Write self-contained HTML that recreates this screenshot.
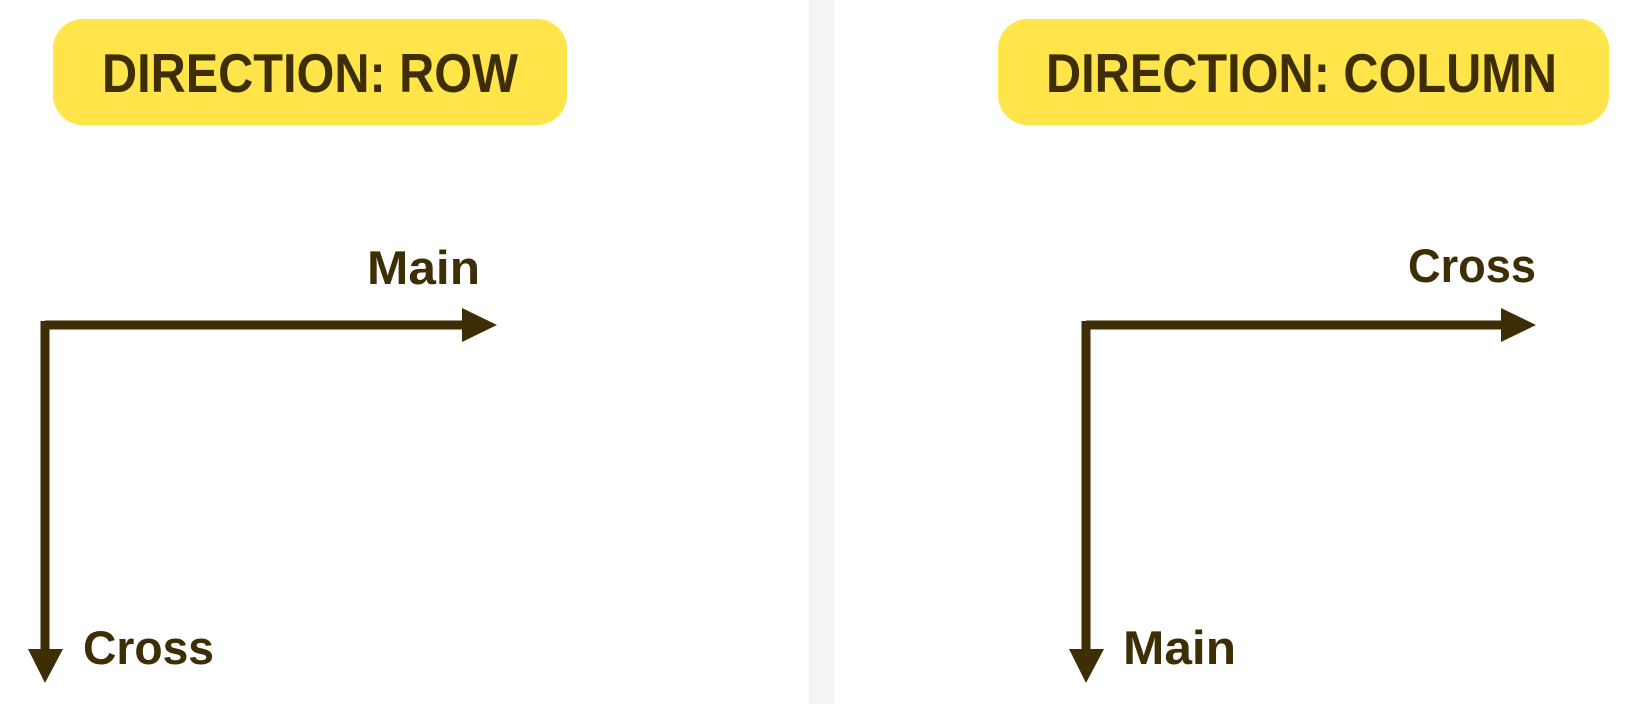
<!DOCTYPE html>
<html><head><meta charset="utf-8"><style>
html,body{margin:0;padding:0;background:#fff;}
svg{display:block;}
text{font-family:"Liberation Sans",sans-serif;font-weight:bold;fill:#3d2e06;}
</style></head><body>
<svg width="1635" height="704" viewBox="0 0 1635 704">
<rect x="809" y="0" width="25" height="704" fill="#f4f4f6"/>
<g>
<rect x="53" y="19" width="514" height="106" rx="30" fill="#ffe44a"/>
<text x="102" y="92" font-size="55" textLength="416" lengthAdjust="spacingAndGlyphs">DIRECTION: ROW</text>
<path d="M45 325 H464" stroke="#3d2e06" stroke-width="9" fill="none"/>
<polygon points="462,308 497,325 462,342" fill="#3d2e06"/>
<path d="M45 321 V652" stroke="#3d2e06" stroke-width="9" fill="none"/>
<polygon points="28,649 63,649 45,683" fill="#3d2e06"/>
<text x="367" y="284" font-size="47" textLength="113" lengthAdjust="spacingAndGlyphs">Main</text>
<text x="83" y="664" font-size="47" textLength="131" lengthAdjust="spacingAndGlyphs">Cross</text>
</g>
<g>
<rect x="998" y="19" width="611" height="106" rx="30" fill="#ffe44a"/>
<text x="1046" y="92" font-size="55" textLength="511" lengthAdjust="spacingAndGlyphs">DIRECTION: COLUMN</text>
<path d="M1086 325 H1503" stroke="#3d2e06" stroke-width="9" fill="none"/>
<polygon points="1501,308 1536,325 1501,342" fill="#3d2e06"/>
<path d="M1086 321 V652" stroke="#3d2e06" stroke-width="9" fill="none"/>
<polygon points="1069,649 1104,649 1086,683" fill="#3d2e06"/>
<text x="1408" y="282" font-size="47" textLength="128" lengthAdjust="spacingAndGlyphs">Cross</text>
<text x="1123" y="664" font-size="47" textLength="113" lengthAdjust="spacingAndGlyphs">Main</text>
</g>
</svg>
</body></html>
